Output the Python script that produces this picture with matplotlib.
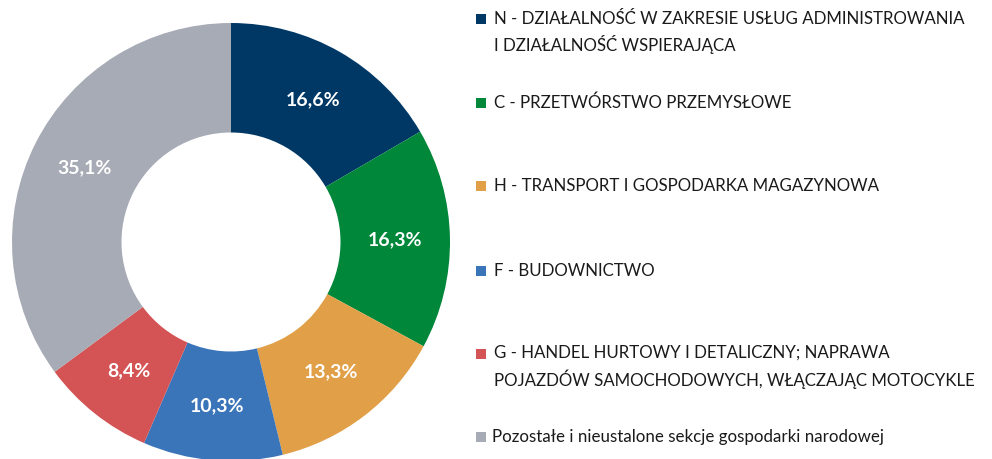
import matplotlib.pyplot as plt
from matplotlib.patches import Rectangle

# shares of sections, clockwise from the top
labels = [
    "N - DZIAŁALNOŚĆ W ZAKRESIE USŁUG ADMINISTROWANIA\nI DZIAŁALNOŚĆ WSPIERAJĄCA",
    "C - PRZETWÓRSTWO PRZEMYSŁOWE",
    "H - TRANSPORT I GOSPODARKA MAGAZYNOWA",
    "F - BUDOWNICTWO",
    "G - HANDEL HURTOWY I DETALICZNY; NAPRAWA\nPOJAZDÓW SAMOCHODOWYCH, WŁĄCZAJĄC MOTOCYKLE",
    "Pozostałe i nieustalone sekcje gospodarki narodowej",
]
values = [16.6, 16.3, 13.3, 10.3, 8.4, 35.1]
colors = ["#003865", "#00873a", "#e19f47", "#3a74b9", "#d45354", "#a7abb5"]

plt.rcParams['font.family'] = ['Lato', 'DejaVu Sans']

W, H = 992, 459
fig = plt.figure(figsize=(W / 100, H / 100), dpi=100)

# donut: centre (231, 242) px, outer radius 219 px
cx, cy, r = 231, 242, 219
ax = fig.add_axes([(cx - r) / W, (H - cy - r) / H, 2 * r / W, 2 * r / H])
wedges, texts, autotexts = ax.pie(
    values, colors=colors, startangle=90, counterclock=False,
    wedgeprops=dict(width=0.5, linewidth=0),
    autopct=lambda p: f"{p:.1f}%".replace(".", ","), pctdistance=0.75,
    textprops=dict(color="white", fontsize=14, fontweight="bold"))
ax.set_xlim(-1, 1)
ax.set_ylim(-1, 1)
ax.set_aspect('equal')
ax.axis('off')

# legend, placed by hand like the original
rows_y = [32, 103, 186, 271, 367, 437]
for i, (lab, col, y) in enumerate(zip(labels, colors, rows_y)):
    yf = (H - y) / H
    multi = "\n" in lab
    # marker sits next to the first line
    my = y - 13 if multi else y
    fig.patches.append(Rectangle((476 / W, (H - my - 5) / H), 10 / W, 10 / H,
                                 transform=fig.transFigure, color=col, lw=0))
    x0 = 492 if i == len(labels) - 1 else 494
    fig.text(x0 / W, yf, lab, ha='left', va='center', fontsize=12.2,
             color="#1a1a1a", linespacing=1.5)

fig.savefig("out.png", dpi=100)
